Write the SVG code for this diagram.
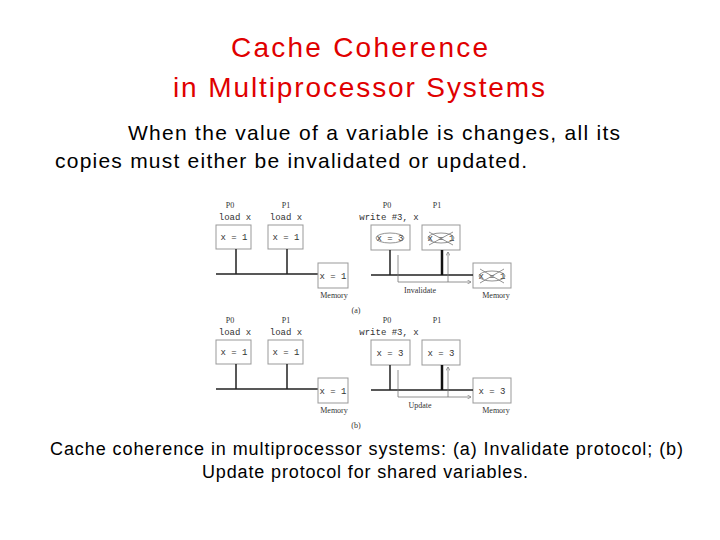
<svg xmlns="http://www.w3.org/2000/svg" width="720" height="540" viewBox="0 0 720 540">
<style>
.t{font-family:"Liberation Sans",Arial,sans-serif}
.r{fill:#e00000;font-size:28px}
.b{fill:#000;font-size:21px}
.s{font-family:"Liberation Mono",monospace;font-size:9px;fill:#333}
.f{font-family:"Liberation Serif",serif;font-size:8px;fill:#333}
.bx{fill:#fff;stroke:#999;stroke-width:1}
.bus{stroke:#222;stroke-width:1.5;fill:none}
.th{stroke:#777;stroke-width:0.8;fill:none}
</style>
<defs><marker id="ah" markerWidth="6" markerHeight="6" refX="5" refY="3" orient="auto"><path d="M0,0L5,3L0,6" fill="none" stroke="#777" stroke-width="0.8"/></marker></defs>
<rect width="720" height="540" fill="#fff"/>
<text class="t r" x="231" y="57" textLength="257" lengthAdjust="spacing">Cache Coherence</text>
<text class="t r" x="173" y="97" textLength="372" lengthAdjust="spacing">in Multiprocessor Systems</text>
<text class="t b" x="128" y="140" textLength="492" lengthAdjust="spacing">When the value of a variable is changes, all its</text>
<text class="t b" x="55" y="168" textLength="472" lengthAdjust="spacing">copies must either be invalidated or updated.</text>
<g id="figure">
<g id="panel-a">
<text class="f" x="230" y="208" text-anchor="middle">P0</text><text class="f" x="286" y="208" text-anchor="middle">P1</text>
<text class="s" x="235" y="220" text-anchor="middle">load x</text><text class="s" x="286" y="220" text-anchor="middle">load x</text>
<rect class="bx" x="216" y="225" width="35" height="24"/><rect class="bx" x="268" y="225" width="35" height="24"/>
<text class="s" x="234" y="240" text-anchor="middle">x = 1</text><text class="s" x="286" y="240" text-anchor="middle">x = 1</text>
<path class="bus" d="M236,249V274M287,249V274M216,274H318"/>
<rect class="bx" x="318" y="263" width="30" height="25"/><text class="s" x="333" y="279" text-anchor="middle">x = 1</text>
<text class="f" x="334" y="298" text-anchor="middle">Memory</text>
<text class="f" x="387" y="208" text-anchor="middle">P0</text><text class="f" x="437" y="208" text-anchor="middle">P1</text>
<text class="s" x="389" y="220" text-anchor="middle">write #3, x</text>
<rect class="bx" x="371" y="225" width="39" height="25"/><rect class="bx" x="422" y="225" width="38" height="25"/>
<text class="s" x="390" y="241" text-anchor="middle">x = 3</text><ellipse cx="390" cy="238" rx="14" ry="5" class="th"/>
<text class="s" x="441" y="241" text-anchor="middle">x = 1</text><ellipse cx="441" cy="238" rx="13" ry="5" class="th"/><path class="th" d="M429,232L453,245M429,245L453,232"/>
<rect class="bx" x="473" y="263" width="38" height="25"/>
<text class="s" x="492" y="279" text-anchor="middle">x = 1</text><ellipse cx="492" cy="276" rx="13" ry="5" class="th"/><path class="th" d="M480,269L504,283M480,283L504,269"/>
<path class="bus" d="M390,250V275M442,250V275M371,275H473"/><path d="M442,250V275" stroke="#111" stroke-width="2.5"/>
<path class="th" d="M398,255V282H471" marker-end="url(#ah)"/><path class="th" d="M448,282V252" marker-end="url(#ah)"/>
<text class="f" x="420" y="293" text-anchor="middle">Invalidate</text>
<text class="f" x="496" y="298" text-anchor="middle">Memory</text>
<text class="f" x="356" y="313" text-anchor="middle">(a)</text>
</g>
<g id="panel-b" transform="translate(0,115)">
<text class="f" x="230" y="208" text-anchor="middle">P0</text><text class="f" x="286" y="208" text-anchor="middle">P1</text>
<text class="s" x="235" y="220" text-anchor="middle">load x</text><text class="s" x="286" y="220" text-anchor="middle">load x</text>
<rect class="bx" x="216" y="225" width="35" height="24"/><rect class="bx" x="268" y="225" width="35" height="24"/>
<text class="s" x="234" y="240" text-anchor="middle">x = 1</text><text class="s" x="286" y="240" text-anchor="middle">x = 1</text>
<path class="bus" d="M236,249V274M287,249V274M216,274H318"/>
<rect class="bx" x="318" y="263" width="30" height="25"/><text class="s" x="333" y="279" text-anchor="middle">x = 1</text>
<text class="f" x="334" y="298" text-anchor="middle">Memory</text>
<text class="f" x="387" y="208" text-anchor="middle">P0</text><text class="f" x="437" y="208" text-anchor="middle">P1</text>
<text class="s" x="389" y="220" text-anchor="middle">write #3, x</text>
<rect class="bx" x="371" y="225" width="39" height="25"/><rect class="bx" x="422" y="225" width="38" height="25"/>
<text class="s" x="390" y="241" text-anchor="middle">x = 3</text>
<text class="s" x="441" y="241" text-anchor="middle">x = 3</text>
<rect class="bx" x="473" y="263" width="38" height="25"/>
<text class="s" x="492" y="279" text-anchor="middle">x = 3</text>
<path class="bus" d="M390,250V275M442,250V275M371,275H473"/><path d="M442,250V275" stroke="#111" stroke-width="2.5"/>
<path class="th" d="M398,255V282H471" marker-end="url(#ah)"/><path class="th" d="M448,282V252" marker-end="url(#ah)"/>
<text class="f" x="420" y="293" text-anchor="middle">Update</text>
<text class="f" x="496" y="298" text-anchor="middle">Memory</text>
<text class="f" x="356" y="313" text-anchor="middle">(b)</text>
</g>
</g>
<text class="t" x="50" y="455" font-size="18" textLength="633" lengthAdjust="spacing">Cache coherence in multiprocessor systems: (a) Invalidate protocol; (b)</text>
<text class="t" x="202" y="478" font-size="18" textLength="326" lengthAdjust="spacing">Update protocol for shared variables.</text>
</svg>
